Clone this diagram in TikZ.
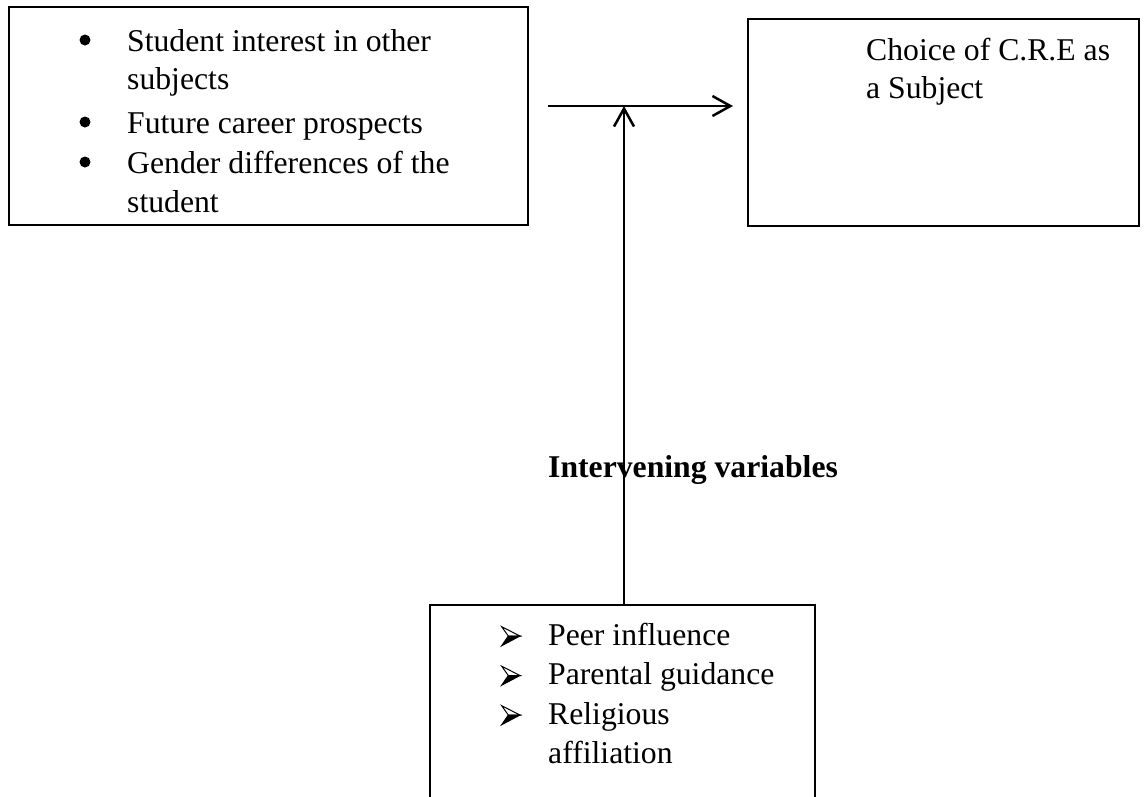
\documentclass[tikz,border=0pt]{standalone}
\usepackage{fontspec}
\setmainfont{Liberation Serif}
\usetikzlibrary{arrows.meta}
\tikzset{
  box/.style={draw, line width=2.7pt, rectangle, inner sep=0pt, outer sep=0pt},
  txt/.style={anchor=base west, inner sep=0pt, font=\fontsize{31.7}{38}\selectfont},
  btxt/.style={txt, font=\fontsize{31.7}{38}\selectfont\bfseries},
  dotb/.style={circle, fill=black, inner sep=0pt, minimum size=11pt},
  conn/.style={line width=2.5pt, -{Straight Barb[length=18pt,width=20pt,line width=2.5pt]}},
  markup/.style={fill=white, draw=black, line width=1pt, line join=miter},
  markdown/.style={fill=black, draw=black, line width=1pt, line join=miter}
}
\newcommand{\arrowmark}[2]{%
  \filldraw[markup] (#1-8.3,#2-9.3) -- (#1+10,#2) -- (#1-1.7,#2) -- cycle;
  \filldraw[markdown] (#1-1.7,#2) -- (#1+10,#2) -- (#1-8.3,#2+9.7) -- cycle;
}
\begin{document}
\begin{tikzpicture}[x=1pt,y=-1pt]
\useasboundingbox (0,0) rectangle (1144,796);
\clip (0,0) rectangle (1144,796);
\fill[white] (0,0) rectangle (1144,796);

% boxes
\node[box, minimum width=519pt, minimum height=218pt] (A) at (268.5,116) {};
\node[box, minimum width=391pt, minimum height=207pt] (B) at (943.5,122.5) {};
\node[box, minimum width=385pt, minimum height=295pt] (C) at (622.5,752.5) {};

% left box text
\node[dotb] (a1b) at (85,40) {};
\node[txt] (a1) at (127,51) {Student interest in other};
\node[txt] (a1c) at (127,89) {subjects};
\node[dotb] (a2b) at (85,122) {};
\node[txt] (a2) at (127,133) {Future career prospects};
\node[dotb] (a3b) at (85,162) {};
\node[txt] (a3) at (127,173) {Gender differences of the};
\node[txt] (a3c) at (127,212) {student};

% right box text
\node[txt] (b1) at (866,60) {Choice of C.R.E as};
\node[txt] (b2) at (866,98) {a Subject};

% bottom box text
\arrowmark{510}{636}
\node[txt] (c1) at (548,645) {Peer influence};
\arrowmark{510}{675.5}
\node[txt] (c2) at (548,684.5) {Parental guidance};
\arrowmark{510}{715}
\node[txt] (c3) at (548,724) {Religious};
\node[txt] (c3c) at (548,763.5) {affiliation};

% label
\node[btxt] (iv) at (548,477) {Intervening variables};

% connectors
\coordinate (hs) at (548,106);
\coordinate (he) at (733,106);
\coordinate (hit) at (624,106);
\draw[conn] (hs) -- (he);
\draw[conn] (C.north -| hit) -- (hit);
\end{tikzpicture}
\end{document}
